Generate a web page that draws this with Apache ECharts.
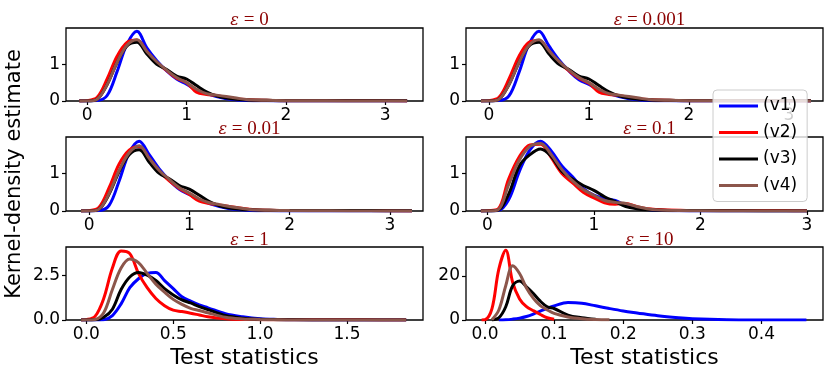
<!DOCTYPE html>
<html>
<head>
<meta charset="utf-8">
<script src="https://cdn.jsdelivr.net/npm/echarts@6/dist/echarts.min.js"></script>
<style>
  html, body { margin: 0; background: #fff; }
  #chart { width: 831px; height: 380px; }
</style>
</head>
<body>
<div id="chart"></div>
<script>
// ---- data ----
const seriesNames = ['(v1)', '(v2)', '(v3)', '(v4)'];
const epsLabels = ['0', '0.001', '0.01', '0.1', '1', '10'];

// eps = 0
const x0 = [-0.08, 0, 0.1, 0.2, 0.3, 0.4, 0.5, 0.6, 0.7, 0.8, 0.9, 1.0, 1.1, 1.2, 1.3, 1.4, 1.5, 1.6, 1.8, 2.0, 2.4, 2.8, 3.22];
const e0v1 = [0, 0, 0.01, 0.15, 0.8, 1.55, 1.9, 1.45, 1.1, 0.82, 0.6, 0.46, 0.3, 0.2, 0.12, 0.06, 0.03, 0.015, 0.005, 0, 0, 0, 0];
const e0v2 = [0, 0.01, 0.1, 0.6, 1.22, 1.6, 1.66, 1.35, 1.05, 0.83, 0.62, 0.5, 0.24, 0.18, 0.15, 0.1, 0.06, 0.04, 0.02, 0.01, 0.01, 0.01, 0];
const e0v3 = [0, 0, 0.05, 0.45, 1.05, 1.5, 1.6, 1.28, 1.0, 0.86, 0.68, 0.6, 0.42, 0.25, 0.14, 0.08, 0.05, 0.03, 0.02, 0.01, 0.01, 0.01, 0.005];
const e0v4 = [0, 0, 0.05, 0.45, 1.05, 1.52, 1.67, 1.35, 1.07, 0.84, 0.64, 0.5, 0.32, 0.2, 0.16, 0.12, 0.08, 0.04, 0.02, 0.01, 0.005, 0, 0];

// eps = 0.001
const x1 = [-0.08, 0, 0.1, 0.2, 0.3, 0.4, 0.5, 0.6, 0.7, 0.8, 0.9, 1.0, 1.1, 1.2, 1.3, 1.4, 1.5, 1.6, 1.8, 2.0, 2.4, 2.8, 3.22];
const e1v1 = [0, 0, 0.01, 0.14, 0.78, 1.55, 1.9, 1.5, 1.12, 0.82, 0.58, 0.45, 0.3, 0.2, 0.12, 0.06, 0.03, 0.015, 0.005, 0, 0, 0, 0];
const e1v2 = [0, 0.01, 0.1, 0.6, 1.22, 1.6, 1.65, 1.36, 1.05, 0.82, 0.62, 0.48, 0.24, 0.18, 0.15, 0.1, 0.06, 0.04, 0.02, 0.01, 0.01, 0.01, 0];
const e1v3 = [0, 0, 0.05, 0.45, 1.05, 1.5, 1.6, 1.28, 1.0, 0.86, 0.68, 0.6, 0.42, 0.25, 0.14, 0.08, 0.05, 0.03, 0.02, 0.01, 0.01, 0.01, 0.005];
const e1v4 = [0, 0, 0.05, 0.45, 1.05, 1.52, 1.67, 1.37, 1.08, 0.84, 0.64, 0.5, 0.32, 0.2, 0.16, 0.12, 0.08, 0.04, 0.02, 0.01, 0.005, 0, 0];

// eps = 0.01
const x2 = [-0.08, 0, 0.1, 0.2, 0.3, 0.4, 0.5, 0.6, 0.7, 0.8, 0.9, 1.0, 1.1, 1.2, 1.3, 1.4, 1.5, 1.6, 1.8, 2.0, 2.4, 2.8, 3.22];
const e2v1 = [0, 0, 0.01, 0.15, 0.8, 1.55, 1.86, 1.5, 1.12, 0.82, 0.58, 0.44, 0.3, 0.2, 0.12, 0.06, 0.03, 0.015, 0.005, 0, 0, 0, 0];
const e2v2 = [0, 0.01, 0.1, 0.62, 1.25, 1.62, 1.72, 1.4, 1.06, 0.8, 0.6, 0.44, 0.26, 0.2, 0.16, 0.12, 0.08, 0.05, 0.02, 0.01, 0.01, 0.01, 0];
const e2v3 = [0, 0, 0.05, 0.45, 1.05, 1.5, 1.63, 1.3, 1.0, 0.86, 0.68, 0.58, 0.42, 0.25, 0.14, 0.08, 0.05, 0.03, 0.02, 0.01, 0.01, 0.01, 0.005];
const e2v4 = [0, 0, 0.05, 0.47, 1.08, 1.55, 1.74, 1.4, 1.08, 0.84, 0.62, 0.48, 0.32, 0.22, 0.17, 0.12, 0.08, 0.04, 0.02, 0.01, 0.005, 0, 0];

// eps = 0.1
const x3 = [-0.06, 0, 0.1, 0.2, 0.3, 0.4, 0.5, 0.6, 0.7, 0.8, 0.9, 1.0, 1.1, 1.2, 1.3, 1.4, 1.5, 1.6, 1.8, 2.0, 2.4, 2.8, 3.0];
const e3v1 = [0, 0, 0.01, 0.3, 1.05, 1.63, 1.86, 1.6, 1.2, 0.91, 0.6, 0.42, 0.33, 0.28, 0.15, 0.08, 0.04, 0.02, 0.005, 0, 0, 0, 0];
const e3v2 = [0, 0.01, 0.05, 0.85, 1.44, 1.76, 1.78, 1.42, 1.0, 0.75, 0.5, 0.35, 0.22, 0.18, 0.2, 0.12, 0.06, 0.04, 0.02, 0.01, 0.01, 0.01, 0.005];
const e3v3 = [0, 0, 0.02, 0.45, 1.2, 1.5, 1.65, 1.45, 1.05, 0.85, 0.68, 0.55, 0.38, 0.25, 0.12, 0.06, 0.03, 0.02, 0.01, 0.01, 0.005, 0, 0];
const e3v4 = [0, 0, 0.03, 0.7, 1.35, 1.72, 1.8, 1.5, 1.1, 0.8, 0.57, 0.42, 0.28, 0.23, 0.2, 0.12, 0.06, 0.03, 0.01, 0.005, 0, 0, 0];

// eps = 1
const x4 = [-0.03, 0.0, 0.05, 0.1, 0.15, 0.2, 0.25, 0.3, 0.35, 0.4, 0.45, 0.5, 0.55, 0.6, 0.65, 0.7, 0.8, 0.9, 1.0, 1.1, 1.2, 1.4, 1.6, 1.84];
const e4v1 = [0, 0, 0, 0.02, 0.25, 0.9, 1.8, 2.3, 2.6, 2.65, 2.2, 1.75, 1.3, 1.05, 0.84, 0.68, 0.35, 0.18, 0.07, 0.03, 0.01, 0, 0, 0];
const e4v2 = [0, 0.02, 0.2, 1.2, 2.9, 3.85, 3.7, 2.6, 1.8, 1.2, 0.8, 0.55, 0.47, 0.38, 0.28, 0.18, 0.07, 0.03, 0.02, 0.01, 0.01, 0.02, 0.01, 0];
const e4v3 = [0, 0, 0.01, 0.15, 0.6, 1.7, 2.4, 2.65, 2.5, 2.2, 1.75, 1.4, 1.12, 0.95, 0.75, 0.58, 0.25, 0.1, 0.04, 0.02, 0.01, 0, 0, 0];
const e4v4 = [0, 0, 0.03, 0.4, 1.7, 2.9, 3.4, 3.2, 2.6, 2.0, 1.55, 1.15, 0.87, 0.65, 0.53, 0.4, 0.15, 0.06, 0.03, 0.01, 0, 0, 0, 0];

// eps = 10
const x5 = [-0.005, 0, 0.01, 0.02, 0.03, 0.04, 0.05, 0.06, 0.07, 0.08, 0.09, 0.1, 0.12, 0.14, 0.16, 0.18, 0.2, 0.22, 0.25, 0.28, 0.3, 0.35, 0.4, 0.465];
const e5v1 = [null, null, null, 0, 0.1, 0.4, 0.85, 1.6, 2.7, 4.0, 5.3, 6.4, 7.9, 7.6, 6.4, 5.2, 4.1, 3.2, 1.9, 1.0, 0.6, 0.15, 0.03, 0];
const e5v2 = [0, 0.1, 5, 23, 31.5, 17, 9.5, 6, 4.2, 2.5, 1.0, 0.3, null, null, null, null, null, null, null, null, null, null, null, null];
const e5v3 = [null, null, 0, 1, 6, 15.5, 17.6, 15, 12, 8.5, 6.0, 5.2, 2.2, 1.0, 0.3, null, null, null, null, null, null, null, null, null];
const e5v4 = [null, null, 0.1, 4.5, 15.5, 24.5, 21, 14.5, 9.8, 6.5, 4.6, 3.0, 1.4, 0.6, 0.25, 0.1, null, null, null, null, null, null, null, null];

// axis ranges and ticks
const xMins = [-0.214, -0.23, -0.23, -0.2, -0.117, -0.0275];
const xMaxs = [3.38, 3.34, 3.33, 3.15, 1.937, 0.489];
const yMaxs = [1.99, 1.99, 1.97, 1.97, 4.07, 33];
const xTickVals = [[0, 1, 2, 3], [0, 1, 2, 3], [0, 1, 2, 3], [0, 1, 2, 3], [0, 0.5, 1.0, 1.5], [0, 0.1, 0.2, 0.3, 0.4]];
const yTickVals = [[0, 1], [0, 1], [0, 1], [0, 1], [0, 2.5], [0, 20]];
const tickDecimals = [0, 0, 0, 0, 1, 1];
const yTickDecimals = [0, 0, 0, 0, 1, 0];

const panelX = [x0, x1, x2, x3, x4, x5];
const panelY = [
  [e0v1, e0v2, e0v3, e0v4],
  [e1v1, e1v2, e1v3, e1v4],
  [e2v1, e2v2, e2v3, e2v4],
  [e3v1, e3v2, e3v3, e3v4],
  [e4v1, e4v2, e4v3, e4v4],
  [e5v1, e5v2, e5v3, e5v4]
];

// ---- layout / style ----
const colors = ['#0000ff', '#ff0000', '#000000', '#8c564b'];
const boxes = [
  { left: 66, top: 28, height: 73 },
  { left: 466, top: 28, height: 73 },
  { left: 66, top: 137, height: 74 },
  { left: 466, top: 137, height: 74 },
  { left: 66, top: 247, height: 73 },
  { left: 466, top: 247, height: 73 }
];
const boxW = 357;
const titleY = [6, 6, 115, 115, 226, 226];
const FONT = 'DejaVu Sans';

const chart = echarts.init(document.getElementById('chart'), null, { renderer: 'canvas' });

const grids = [], xAxes = [], yAxes = [], titles = [], series = [];
boxes.forEach((b, i) => {
  grids.push({
    left: b.left, top: b.top, width: boxW, height: b.height,
    show: true, borderColor: '#000', borderWidth: 1.3, backgroundColor: '#fff'
  });
  xAxes.push({
    gridIndex: i, type: 'value', min: xMins[i], max: xMaxs[i],
    axisLine: { show: false, onZero: false },
    axisTick: { show: true, customValues: xTickVals[i], length: 4, lineStyle: { color: '#000', width: 1.2 } },
    axisLabel: {
      customValues: xTickVals[i], color: '#000', fontSize: 17, fontFamily: FONT, margin: 6,
      formatter: v => Number(v).toFixed(tickDecimals[i])
    },
    splitLine: { show: false },
    name: i >= 4 ? 'Test statistics' : '',
    nameLocation: 'middle', nameGap: 27,
    nameTextStyle: { color: '#000', fontSize: 22, fontFamily: FONT }
  });
  yAxes.push({
    gridIndex: i, type: 'value', min: 0, max: yMaxs[i],
    axisLine: { show: false, onZero: false },
    axisTick: { show: true, customValues: yTickVals[i], length: 4, lineStyle: { color: '#000', width: 1.2 } },
    axisLabel: {
      customValues: yTickVals[i], color: '#000', fontSize: 17, fontFamily: FONT, margin: 6,
      formatter: v => Number(v).toFixed(yTickDecimals[i])
    },
    splitLine: { show: false }
  });
  titles.push({
    text: '{e|ε}{t| = ' + epsLabels[i] + '}',
    left: b.left + boxW / 2, top: titleY[i], textAlign: 'center',
    textStyle: {
      fontWeight: 'normal',
      rich: {
        e: { fontFamily: 'DejaVu Serif', fontStyle: 'italic', fontWeight: 'normal', fontSize: 16, color: '#8b0000' },
        t: { fontFamily: 'Liberation Serif', fontWeight: 'normal', fontSize: 19, color: '#8b0000' }
      }
    }
  });
  panelY[i].forEach((ys, k) => {
    series.push({
      name: seriesNames[k], type: 'line', xAxisIndex: i, yAxisIndex: i,
      data: panelX[i].map((x, j) => [x, ys[j]]),
      smooth: 0.35, symbol: 'none', connectNulls: false,
      lineStyle: { color: colors[k], width: 3 },
      itemStyle: { color: colors[k] },
      z: 2 + k
    });
  });
});

chart.setOption({
  animation: false,
  backgroundColor: '#fff',
  title: titles,
  grid: grids,
  xAxis: xAxes,
  yAxis: yAxes,
  legend: {
    data: seriesNames, orient: 'vertical', left: 713, top: 90,
    icon: 'rect', itemWidth: 39, itemHeight: 3, itemGap: 6.5, itemTextGap: 12,
    padding: [6, 10, 6, 6],
    textStyle: { fontSize: 17, fontFamily: FONT, color: '#000', lineHeight: 20 },
    backgroundColor: 'rgba(255,255,255,0.8)', borderColor: '#cccccc', borderWidth: 1, borderRadius: 4,
    z: 10
  },
  graphic: [{
    type: 'text', x: 15, y: 174, rotation: Math.PI / 2,
    style: { text: 'Kernel-density estimate', fontSize: 21, fontFamily: FONT, fill: '#000', align: 'center', verticalAlign: 'middle' }
  }],
  series: series
});
</script>
</body>
</html>
